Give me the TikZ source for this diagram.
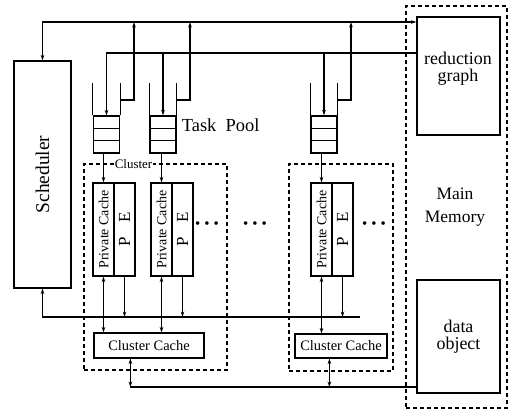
\documentclass[tikz,border=0pt]{standalone}
\usepackage{fontspec}
\setmainfont{Liberation Serif}
\usetikzlibrary{arrows.meta,calc}

\begin{document}
\begin{tikzpicture}[x=1bp,y=-1bp,line width=1.1bp,
  >={Stealth[length=5.5bp,width=3.6bp]},
  blk/.style={draw,line width=1.2bp,inner sep=0pt,align=center},
  frame/.style={draw,line width=1.2bp,dash pattern=on 4bp off 3bp,inner sep=0pt},
  que/.style={draw,line width=1.2bp,inner sep=0pt,minimum width=26bp,minimum height=37bp},
  lbl/.style={align=center,font=\fontsize{18}{17}\selectfont},
  dots/.style={inner sep=0pt,font=\fontsize{15}{15}\selectfont}]
  \useasboundingbox (0,0) rectangle (509,410);
  % bus levels
  \coordinate (tb) at (0,22);
  \coordinate (rb) at (0,53);
  \coordinate (wt) at (0,83);
  \coordinate (qx) at (0,100);
  \coordinate (pb) at (360,317);
  \coordinate (bb) at (0,387);
  % memory side
  \node[frame,minimum width=101bp,minimum height=402bp] (mm) at (456.5,207) {};
  \node[lbl,font=\fontsize{17.5}{23}\selectfont] (mml) at (455,207) {Main\\Memory};
  \node[blk,minimum width=83bp,minimum height=118bp] (rg) at (458.5,76) {};
  \node[lbl] (rgl) at (458,69) {reduction\\graph};
  \node[blk,lbl,minimum width=83bp,minimum height=113bp] (dobj) at (458.5,336.5) {data\\object};
  % scheduler
  \node[blk,minimum width=57bp,minimum height=227bp,font=\fontsize{19.5}{19.5}\selectfont] (sched) at (42.5,174.5) {\rotatebox{90}{Scheduler}};
  % clusters
  \node[frame,minimum width=143bp,minimum height=206bp] (cl1) at (155.5,267) {};
  \node[frame,minimum width=104bp,minimum height=207bp] (cl2) at (341,267.5) {};
  \node[blk,minimum width=110bp,minimum height=25bp,font=\fontsize{14.5}{14.5}\selectfont] (cc1) at (149,345.5) {Cluster Cache};
  \node[blk,minimum width=92bp,minimum height=24bp,font=\fontsize{14.5}{14.5}\selectfont] (cc2) at (341,346) {Cluster Cache};
  % task pools and processors
  \foreach \n/\x/\p in {1/106.5/93,2/163/151,3/324/311} {
    \node[que] (q\n) at (\x,134.5) {};
    \node[blk,minimum width=21bp,minimum height=93bp,font=\fontsize{14}{14}\selectfont] (pc\n) at ({\p+10.5},229.5) {\rotatebox{90}{Private Cache}};
    \node[blk,minimum width=21bp,minimum height=93bp,font=\fontsize{17}{17}\selectfont] (pe\n) at ({\p+31.5},229.5) {\rotatebox{90}{P\hspace{14bp}E}};
  }
  \node[font=\fontsize{18.5}{18.5}\selectfont,anchor=west] (tp) at (178,125) {Task~~Pool};
  \node[dots] (d1) at (207,225) {\textbullet\hspace{4bp}\textbullet\hspace{4bp}\textbullet};
  \node[dots] (d2) at (255,225) {\textbullet\hspace{4bp}\textbullet\hspace{4bp}\textbullet};
  \node[dots] (d3) at (374,225) {\textbullet\hspace{4bp}\textbullet\hspace{4bp}\textbullet};
  % queue walls and slots
  \foreach \n/\x in {1/134,2/190,3/351} {
    \draw (q\n.north west) -- (q\n.north west |- wt);
    \draw (q\n.north east) -- (q\n.north east |- wt);
    \foreach \f in {1/3,2/3}
      \draw ($(q\n.north west)!\f!(q\n.south west)$) -- ($(q\n.north east)!\f!(q\n.south east)$);
    \draw[->] (q\n.north east |- qx) -| (\x,0 |- tb);
    \draw[->] (pc\n.north |- q\n.south) -- (pc\n.north);
    \draw[->] (pe\n.south) -- (pe\n.south |- pb);
  }
  \foreach \n/\c in {1/1,2/1,3/2}
    \draw[<->] (pc\n.south) -- (pc\n.south |- cc\c.north);
  % buses
  \draw[<->] (sched.north) |- (rg.west |- tb);
  \draw[->] (rg.west |- rb) -| (q1.north);
  \draw[->] (q2.north |- rb) -- (q2.north);
  \draw[->] (q3.north |- rb) -- (q3.north);
  \draw[->] (pb) -| (sched.south);
  \coordinate (c1) at ($(cc1.south west)+(37,0)$);
  \coordinate (c2) at ($(cc2.south west)+(35,0)$);
  \draw[<->] (cc1.south -| c1) -- (c1 |- bb);
  \draw[<->] (cc2.south -| c2) -- (c2 |- bb);
  \draw (c1 |- bb) -- (dobj.west |- bb);
  \node[fill=white,inner sep=1bp,font=\fontsize{13}{13}\selectfont] (cll) at (133.5,164) {Cluster};
\end{tikzpicture}
\end{document}
